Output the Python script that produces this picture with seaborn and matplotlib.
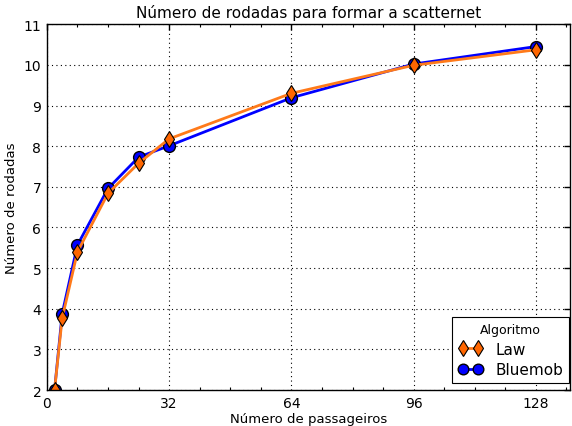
import numpy as np
import pandas as pd
import seaborn as sns
import matplotlib
matplotlib.use('Agg')
import matplotlib.pyplot as plt
from matplotlib.ticker import MultipleLocator

# dados
passageiros = [2, 4, 8, 16, 24, 32, 64, 96, 128]
law = [2.0, 3.77, 5.40, 6.84, 7.58, 8.18, 9.30, 9.99, 10.37]
bluemob = [2.0, 3.88, 5.57, 6.96, 7.73, 8.01, 9.19, 10.02, 10.45]

df_law = pd.DataFrame({'x': passageiros, 'y': law})
df_blue = pd.DataFrame({'x': passageiros, 'y': bluemob})

sns.set_style('white')
plt.rcParams.update({'font.family': ['DejaVu Sans'],
                     'text.color': 'black',
                     'axes.labelcolor': 'black',
                     'xtick.color': 'black',
                     'ytick.color': 'black',
                     'xtick.direction': 'in',
                     'ytick.direction': 'in',
                     'xtick.top': True,
                     'ytick.right': True})

fig, ax = plt.subplots(figsize=(5.72, 4.27), dpi=100)
fig.subplots_adjust(left=0.082, right=0.997, top=0.941, bottom=0.084)

# azul primeiro, laranja por cima
sns.lineplot(data=df_blue, x='x', y='y', ax=ax, color='#0000ff', lw=2,
             marker='o', markersize=8.5, markerfacecolor='#0000ff',
             markeredgecolor='black', markeredgewidth=1, label='Bluemob')
sns.lineplot(data=df_law, x='x', y='y', ax=ax, color='#ff7a1a', lw=2,
             marker='d', markersize=8.5, markerfacecolor='#ff6600',
             markeredgecolor='black', markeredgewidth=0.8, label='Law')

ax.set_xlim(0, 137)
ax.set_ylim(2, 11)
ax.xaxis.set_major_locator(MultipleLocator(32))
ax.xaxis.set_minor_locator(MultipleLocator(8))
ax.yaxis.set_major_locator(MultipleLocator(1))
ax.tick_params(which='major', length=4, width=1, labelsize=10, pad=4)
ax.tick_params(which='minor', length=2, width=0.8, top=True, bottom=True)
ax.grid(True, which='major', linestyle=(0, (1, 3)), color='black', lw=0.8)
for s in ax.spines.values():
    s.set_color('black')
    s.set_linewidth(1)

ax.set_title('Número de rodadas para formar a scatternet', fontsize=11, pad=5)
ax.set_xlabel('Número de passageiros', fontsize=9.5, labelpad=2)
ax.set_ylabel('Número de rodadas', fontsize=9.5)

h, l = ax.get_legend_handles_labels()
leg = ax.legend(h[::-1], l[::-1], title='Algoritmo', loc='lower right',
                bbox_to_anchor=(1.011, 0.0), bbox_transform=ax.transAxes,
                fontsize=11, title_fontsize=9, numpoints=2, fancybox=False,
                framealpha=1, edgecolor='black', handlelength=1.6,
                borderaxespad=0.45, borderpad=0.4, labelspacing=0.35,
                handletextpad=0.8, markerscale=0.9)
leg.get_frame().set_linewidth(0.8)

fig.savefig('out.png', dpi=100)
